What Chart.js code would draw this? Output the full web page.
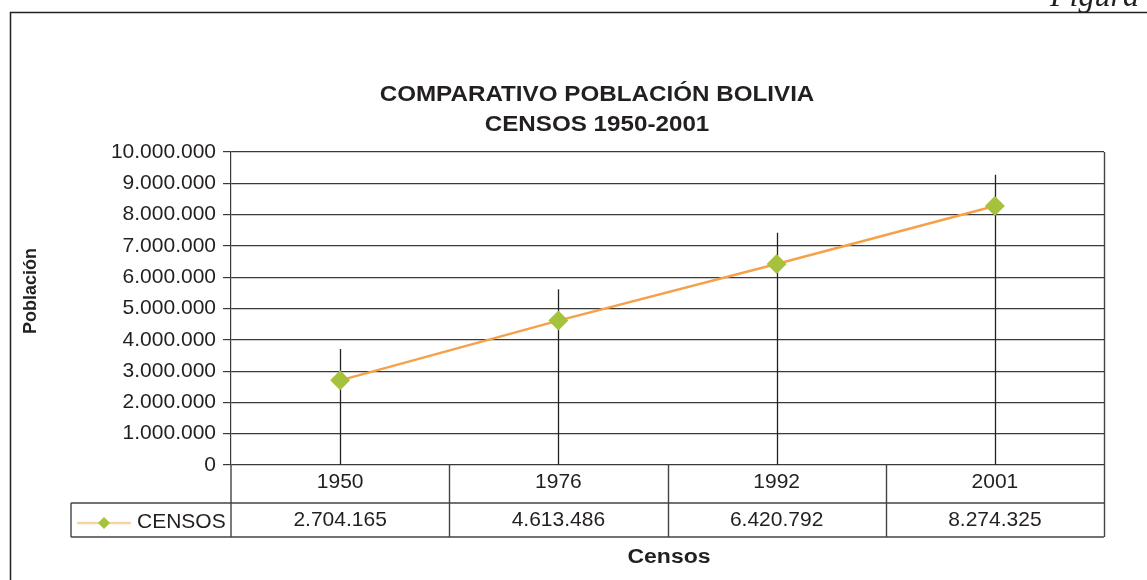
<!DOCTYPE html>
<html lang="es">
<head>
<meta charset="utf-8">
<title>Comparativo población Bolivia</title>
<script src="https://cdn.jsdelivr.net/npm/chart.js@4.4.1/dist/chart.umd.min.js"></script>
<style>
  html, body { margin: 0; padding: 0; background: #fff; }
  #contenedor { width: 1147px; height: 580px; position: relative; }
</style>
</head>
<body>
<div id="contenedor"><canvas id="grafico"></canvas></div>
<script>
// datos de los censos
const censos = ['1950', '1976', '1992', '2001'];
const poblacion = [2704165, 4613486, 6420792, 8274325];
const errorArriba = [1000000, 1000000, 1000000, 1000000];
const etiquetaSerie = 'CENSOS';
const tituloLineas = ['COMPARATIVO POBLACIÓN BOLIVIA', 'CENSOS 1950-2001'];
const tituloY = 'Población';
const tituloX = 'Censos';
const textoFigura = 'Figura';
const ejeYMax = 10000000;
const ejeYPaso = 1000000;

const TEXTO = '#231f20';
const LINEA = '#3a3a3a';
const NARANJA = '#f6a04a';
const NARANJA_CLARO = '#f9d2a4';
const VERDE = '#a6c23c';
const FUENTE = '"Liberation Sans", Arial, sans-serif';

function formatoMiles(v) {
  return String(Math.round(v)).replace(/\B(?=(\d{3})+(?!\d))/g, '.');
}

function diamante(ctx, x, y, r) {
  ctx.beginPath();
  ctx.moveTo(x, y - r);
  ctx.lineTo(x + r, y);
  ctx.lineTo(x, y + r);
  ctx.lineTo(x - r, y);
  ctx.closePath();
  ctx.fill();
}

// texto algo ensanchado, como en el original
function textoAncho(ctx, t, x, y, escala) {
  ctx.save();
  ctx.translate(x, y);
  ctx.scale(escala, 1);
  ctx.fillText(t, 0, 0);
  ctx.restore();
}

const decoracion = {
  id: 'decoracion',
  beforeDraw(chart) {
    const ctx = chart.ctx;
    ctx.save();
    ctx.fillStyle = '#fff';
    ctx.fillRect(0, 0, chart.width, chart.height);

    // marco de la figura (cortado a la derecha y abajo)
    ctx.strokeStyle = '#222';
    ctx.lineWidth = 1.5;
    ctx.beginPath();
    ctx.moveTo(10.5, chart.height);
    ctx.lineTo(10.5, 12.5);
    ctx.lineTo(chart.width, 12.5);
    ctx.stroke();

    ctx.fillStyle = TEXTO;
    ctx.font = 'italic 32px "Liberation Serif", "Times New Roman", serif';
    ctx.textAlign = 'left';
    ctx.textBaseline = 'alphabetic';
    ctx.fillText(textoFigura, 1050, 6);
    ctx.restore();
  },
  beforeDatasetsDraw(chart) {
    // barras verticales: desde 0 hasta valor + error
    const { ctx, scales: { x, y } } = chart;
    ctx.save();
    ctx.strokeStyle = '#222';
    ctx.lineWidth = 1.3;
    poblacion.forEach((v, i) => {
      const px = Math.round(x.getPixelForValue(i)) + 0.5;
      ctx.beginPath();
      ctx.moveTo(px, y.getPixelForValue(v + errorArriba[i]));
      ctx.lineTo(px, y.getPixelForValue(0));
      ctx.stroke();
    });
    ctx.restore();
  },
  afterDraw(chart) {
    const { ctx, chartArea, scales: { x } } = chart;
    const ancho = x.getPixelForValue(1) - x.getPixelForValue(0);
    const fila1 = chartArea.bottom;
    const fila2 = fila1 + 38;
    const fila3 = fila2 + 34;
    const izqLeyenda = 71;

    ctx.save();
    // tabla de datos
    ctx.strokeStyle = '#444';
    ctx.lineWidth = 1.4;
    ctx.beginPath();
    ctx.moveTo(izqLeyenda, fila2); ctx.lineTo(chartArea.right, fila2);
    ctx.moveTo(izqLeyenda, fila3); ctx.lineTo(chartArea.right, fila3);
    ctx.moveTo(izqLeyenda, fila2); ctx.lineTo(izqLeyenda, fila3);
    ctx.moveTo(chartArea.left, fila1); ctx.lineTo(chartArea.left, fila3);
    censos.forEach((c, i) => {
      const xb = Math.round(x.getPixelForValue(i) + ancho / 2) + 0.5;
      const yTop = i === censos.length - 1 ? chartArea.top : fila1;
      ctx.moveTo(xb, yTop); ctx.lineTo(xb, fila3);
    });
    ctx.stroke();

    ctx.fillStyle = TEXTO;
    ctx.font = '21px ' + FUENTE;
    ctx.textAlign = 'center';
    ctx.textBaseline = 'middle';
    censos.forEach((c, i) => {
      const cx = x.getPixelForValue(i);
      ctx.fillText(c, cx, fila1 + 17);
      ctx.fillText(formatoMiles(poblacion[i]), cx, fila2 + 17);
    });

    // leyenda dentro de la tabla
    ctx.strokeStyle = NARANJA_CLARO;
    ctx.lineWidth = 2.5;
    ctx.beginPath();
    ctx.moveTo(77, fila2 + 20); ctx.lineTo(131, fila2 + 20);
    ctx.stroke();
    ctx.fillStyle = VERDE;
    diamante(ctx, 104, fila2 + 20, 6);
    ctx.fillStyle = TEXTO;
    ctx.textAlign = 'left';
    ctx.fillText(etiquetaSerie, 137, fila2 + 19);

    // títulos
    ctx.textAlign = 'center';
    ctx.font = 'bold 22px ' + FUENTE;
    tituloLineas.forEach((t, i) => textoAncho(ctx, t, 597, 95 + i * 30, 1.1));

    ctx.font = 'bold 20px ' + FUENTE;
    textoAncho(ctx, tituloX, 669, 557, 1.15);

    ctx.translate(31, 291);
    ctx.rotate(-Math.PI / 2);
    ctx.font = 'bold 18px ' + FUENTE;
    ctx.fillText(tituloY, 0, 0);
    ctx.restore();
  }
};

new Chart(document.getElementById('grafico'), {
  type: 'line',
  data: {
    labels: censos,
    datasets: [{
      label: etiquetaSerie,
      data: poblacion,
      borderColor: NARANJA,
      borderWidth: 2.5,
      pointStyle: 'rectRot',
      pointRadius: 10,
      pointHoverRadius: 10,
      pointBackgroundColor: VERDE,
      pointBorderWidth: 0,
      tension: 0
    }]
  },
  options: {
    responsive: true,
    maintainAspectRatio: false,
    animation: false,
    layout: { padding: { top: 152, right: 43, bottom: 115, left: 0 } },
    plugins: {
      legend: { display: false },
      title: { display: false },
      tooltip: { enabled: false }
    },
    scales: {
      x: { display: false, offset: true },
      y: {
        min: 0,
        max: ejeYMax,
        afterFit: (scale) => { scale.width = 231; },
        grid: { color: LINEA, lineWidth: 1.2, tickLength: 8 },
        border: { color: LINEA, width: 1.2 },
        ticks: {
          stepSize: ejeYPaso,
          padding: 7,
          color: TEXTO,
          font: { family: FUENTE, size: 21 },
          callback: (v) => formatoMiles(v)
        }
      }
    }
  },
  plugins: [decoracion]
});
</script>
</body>
</html>
